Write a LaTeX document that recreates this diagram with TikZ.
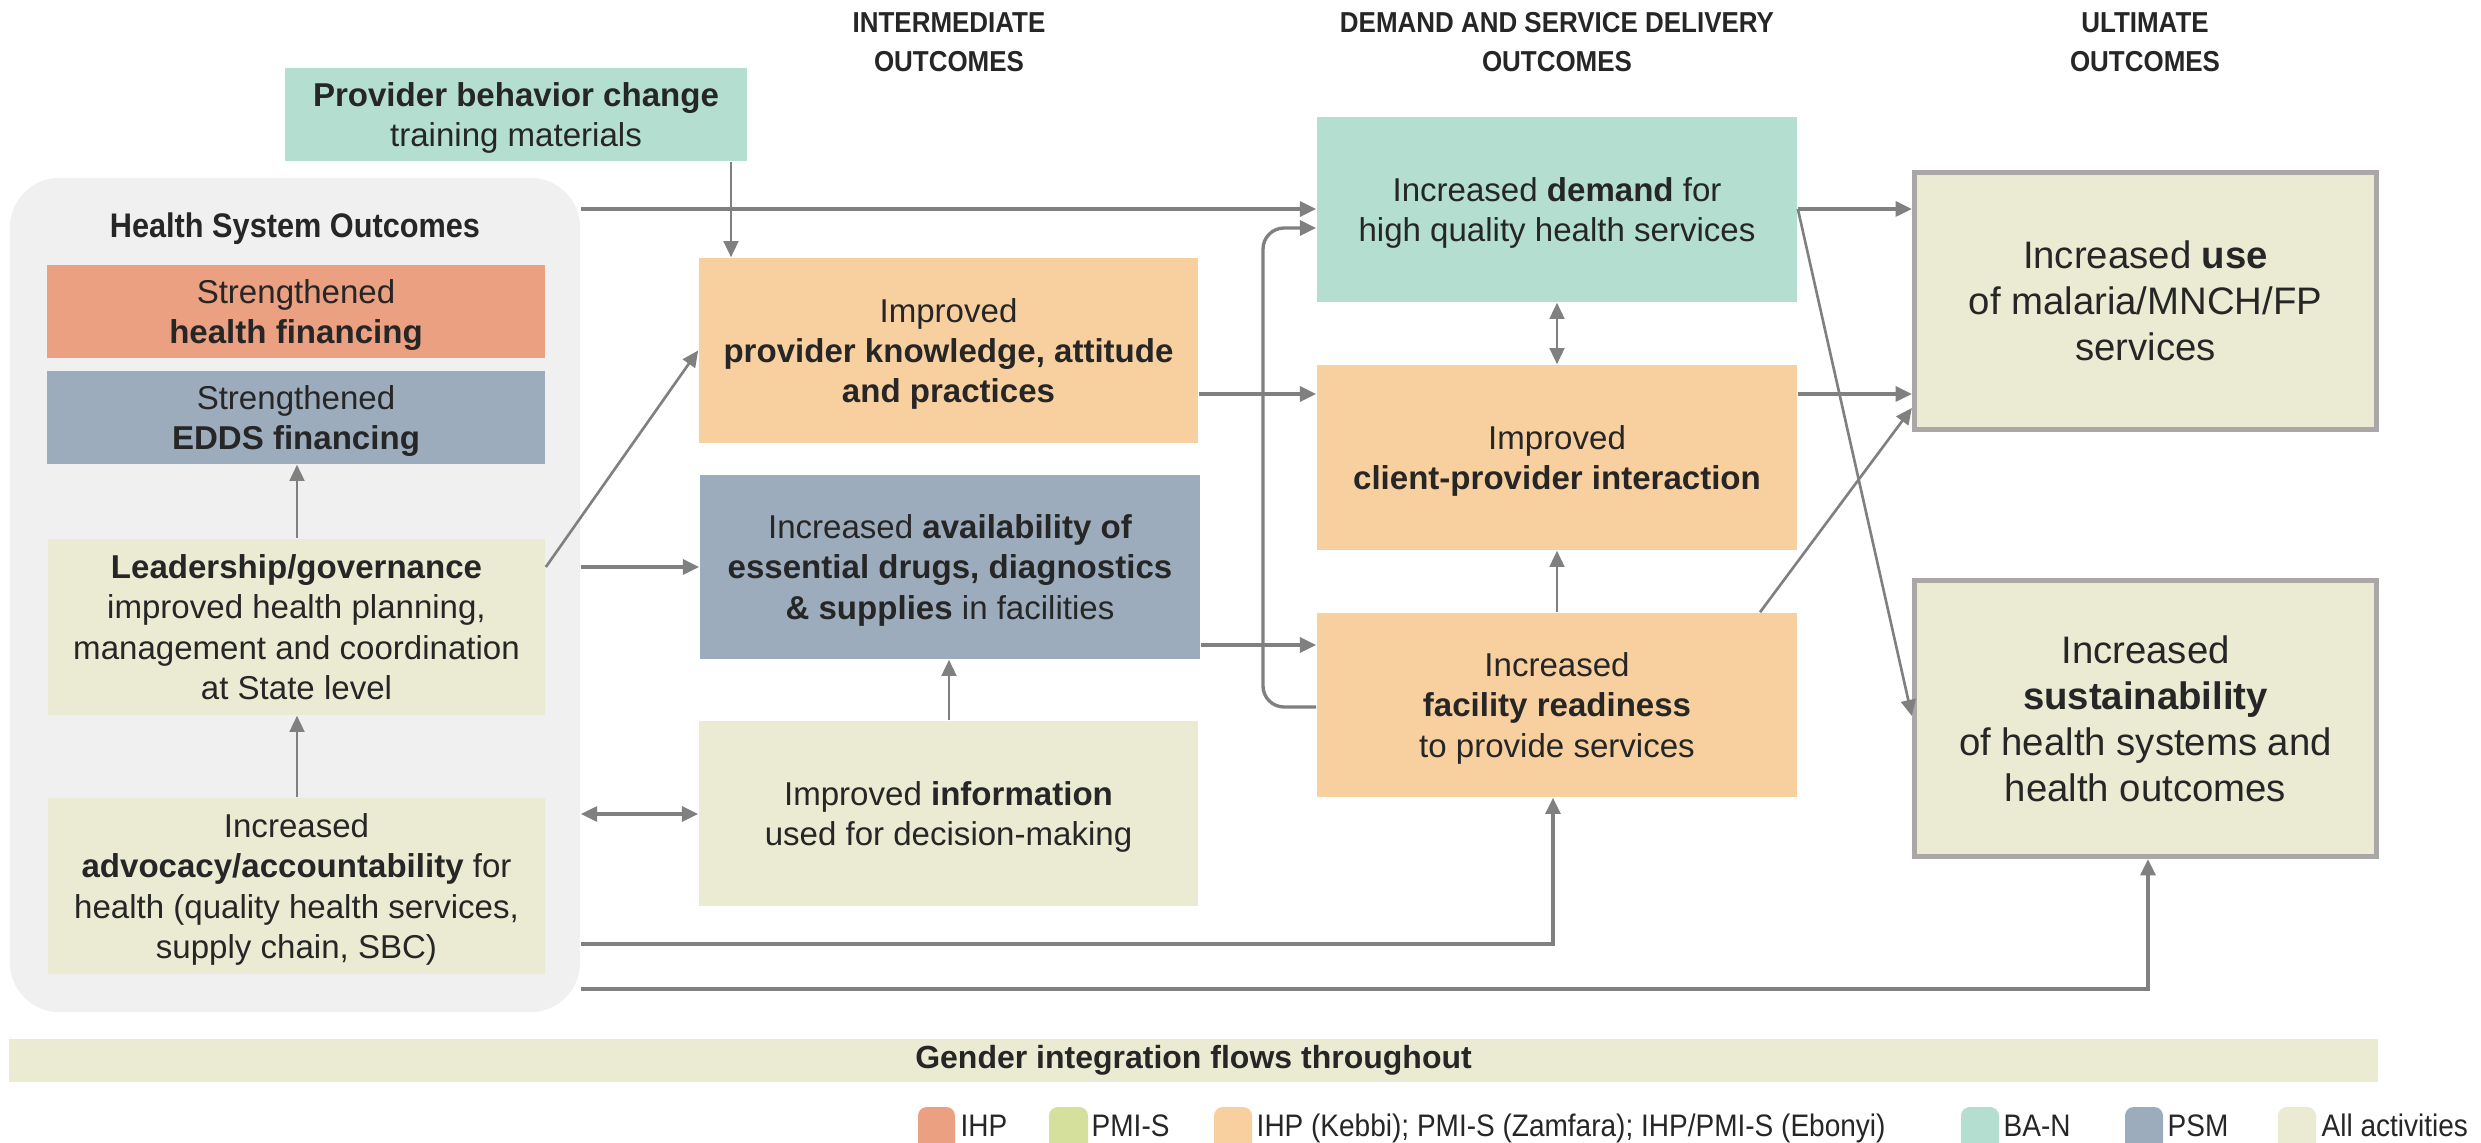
\documentclass[tikz,border=0pt]{standalone}
\usepackage{fontspec}
\setmainfont{Liberation Sans}
\newfontfamily\narrowfont[FakeStretch=0.9]{Liberation Sans}
\usetikzlibrary{arrows.meta,calc}
\definecolor{cTeal}{RGB}{179,222,208}
\definecolor{cSalmon}{RGB}{235,160,130}
\definecolor{cSlate}{RGB}{157,172,189}
\definecolor{cPeach}{RGB}{248,208,160}
\definecolor{cKhaki}{RGB}{235,235,211}
\definecolor{cGreen}{RGB}{212,224,155}
\definecolor{cGrayBg}{RGB}{240,240,240}
\definecolor{cArrow}{RGB}{128,128,128}
\definecolor{cBorder}{RGB}{171,167,167}
\definecolor{cText}{RGB}{38,38,38}
\begin{document}
\begin{tikzpicture}[x=0.01cm,y=-0.01cm,
  box/.style={inner sep=0pt, align=center, text=cText, text depth=0pt, font=\fontsize{9.4}{11.4}\selectfont},
  ultbox/.style={box, draw=cBorder, line width=1.42pt, fill=cKhaki, font=\fontsize{10.9}{13.1}\selectfont},
  hdr/.style={inner sep=0pt, align=center, text=cText, font=\narrowfont\bfseries\fontsize{8.2}{11.1}\selectfont},
  legtxt/.style={inner sep=0pt, anchor=base west, text=cText, font=\narrowfont\fontsize{8.85}{10}\selectfont},
  arr/.style={draw=cArrow, line width=0.95pt, -{Triangle[length=4.6pt,width=4.2pt]}},
  tarr/.style={draw=cArrow, line width=0.75pt, -{Triangle[length=4.6pt,width=4.2pt]}},
  dbl/.style={draw=cArrow, line width=0.95pt, {Triangle[length=4.6pt,width=4.2pt]}-{Triangle[length=4.6pt,width=4.2pt]}},
  tdbl/.style={draw=cArrow, line width=0.75pt, {Triangle[length=4.6pt,width=4.2pt]}-{Triangle[length=4.6pt,width=4.2pt]}}
]
\useasboundingbox[fill=white] (0,0) rectangle (2481,1143);

% headers
\node[hdr] (h1) at (949,42) {INTERMEDIATE\\OUTCOMES};
\node[hdr] (h2) at (1557,42) {DEMAND AND SERVICE DELIVERY\\OUTCOMES};
\node[hdr] (h3) at (2145,42) {ULTIMATE\\OUTCOMES};

% container
\node[fill=cGrayBg, rounded corners=0.5cm, minimum width=5.70cm, minimum height=8.34cm, inner sep=0pt] (cont) at (295,595) {};
\node[inner sep=0pt, text=cText, font=\narrowfont\bfseries\fontsize{9.7}{11}\selectfont] (hso) at (295,229) {Health System Outcomes};

% boxes
\node[box, fill=cTeal, minimum width=4.62cm, minimum height=0.93cm] (prov) at (516,114.5) {\textbf{Provider behavior change}\\training materials};
\node[box, fill=cSalmon, minimum width=4.98cm, minimum height=0.93cm] (hf) at (296,311.5) {Strengthened\\\textbf{health financing}};
\node[box, fill=cSlate, minimum width=4.98cm, minimum height=0.93cm] (edds) at (296,417.5) {Strengthened\\\textbf{EDDS financing}};
\node[box, fill=cKhaki, minimum width=4.97cm, minimum height=1.76cm] (lead) at (296.5,627) {\textbf{Leadership/governance}\\improved health planning,\\management and coordination\\at State level};
\node[box, fill=cKhaki, minimum width=4.97cm, minimum height=1.76cm] (adv) at (296.5,886) {Increased\\\textbf{advocacy/accountability} for\\health (quality health services,\\supply chain, SBC)};

\node[box, fill=cPeach, minimum width=4.99cm, minimum height=1.85cm] (pk) at (948.5,350.5) {Improved\\\textbf{provider knowledge, attitude}\\\textbf{and practices}};
\node[box, fill=cSlate, minimum width=5.00cm, minimum height=1.84cm] (avail) at (950,567) {Increased \textbf{availability of}\\\textbf{essential drugs, diagnostics}\\\textbf{\& supplies} in facilities};
\node[box, fill=cKhaki, minimum width=4.99cm, minimum height=1.85cm] (info) at (948.5,813.5) {Improved \textbf{information}\\used for decision-making};

\node[box, fill=cTeal, minimum width=4.80cm, minimum height=1.85cm] (dem) at (1557,209.5) {Increased \textbf{demand} for\\high quality health services};
\node[box, fill=cPeach, minimum width=4.80cm, minimum height=1.85cm] (cli) at (1557,457.5) {Improved\\\textbf{client-provider interaction}};
\node[box, fill=cPeach, minimum width=4.80cm, minimum height=1.84cm] (fac) at (1557,705) {Increased\\\textbf{facility readiness}\\to provide services};

\node[ultbox, minimum width=4.62cm, minimum height=2.57cm] (use) at (2145.5,301) {Increased \textbf{use}\\of malaria/MNCH/FP\\services};
\node[ultbox, minimum width=4.62cm, minimum height=2.76cm] (sus) at (2145.5,718.5) {Increased\\\textbf{sustainability}\\of health systems and\\health outcomes};

% gender bar
\node[inner sep=0pt, fill=cKhaki, minimum width=23.67cm, minimum height=0.43cm, text=cText, font=\bfseries\fontsize{9.1}{11}\selectfont] (gender) at (1193.5,1060.5) {Gender integration flows throughout};

% arrows
\draw[tarr] (731,0 |- prov.south) -- (731,0 |- pk.north);
\draw[arr] (cont.east |- 0,209) -- (dem.west |- 0,209);
\draw[tarr] (lead.east |- 0,567) -- (pk.west);
\draw[arr] (cont.east |- avail.west) -- (avail.west);
\draw[tarr] (949,0 |- info.north) -- (949,0 |- avail.south);
\draw[dbl] (cont.east |- 0,814) -- (info.west |- 0,814);
\draw[arr] (cont.east |- 0,944) -- (1553,944) -- (1553,0 |- fac.south);
\draw[arr] (cont.east |- 0,989) -- (2148,989) -- (2148,0 |- sus.south);
\draw[tarr] (297,0 |- lead.north) -- (297,0 |- edds.south);
\draw[tarr] (297,0 |- adv.north) -- (297,0 |- lead.south);

\draw[arr] (pk.east |- 0,394) -- (cli.west |- 0,394);
\draw[arr] (avail.east |- 0,645) -- (fac.west |- 0,645);
\draw[arr, rounded corners=6pt] (fac.west |- 0,707) -- (1263,707) -- (1263,228) -- (dem.west |- 0,228);
\draw[tdbl] (dem.south) -- (cli.north);
\draw[tarr] (fac.north) -- (cli.south);

\draw[arr] (dem.east |- 0,209) -- (use.west |- 0,209);
\draw[arr] (cli.east |- 0,394) -- (use.west |- 0,394);
\draw[tarr] (1760,0 |- fac.north) -- (use.west |- 0,408);
\draw[tarr] (dem.east |- 0,209) -- (sus.west |- 0,716);

% legend
\begin{scope}
\clip (0,0) rectangle (2481,1143);
\fill[cSalmon, rounded corners=2.5pt] (918,1107) rectangle (955,1160);
\fill[cGreen, rounded corners=2.5pt] (1049,1107) rectangle (1088,1160);
\fill[cPeach, rounded corners=2.5pt] (1214,1107) rectangle (1252,1160);
\fill[cTeal, rounded corners=2.5pt] (1961,1107) rectangle (1999,1160);
\fill[cSlate, rounded corners=2.5pt] (2125,1107) rectangle (2163,1160);
\fill[cKhaki, rounded corners=2.5pt] (2278,1107) rectangle (2316,1160);
\end{scope}
\node[legtxt] (l1) at (960,1136) {IHP};
\node[legtxt] (l2) at (1091,1136) {PMI-S};
\node[legtxt] (l3) at (1256,1136) {IHP (Kebbi); PMI-S (Zamfara); IHP/PMI-S (Ebonyi)};
\node[legtxt] (l4) at (2003,1136) {BA-N};
\node[legtxt] (l5) at (2167,1136) {PSM};
\node[legtxt] (l6) at (2321,1136) {All activities};
\end{tikzpicture}
\end{document}
